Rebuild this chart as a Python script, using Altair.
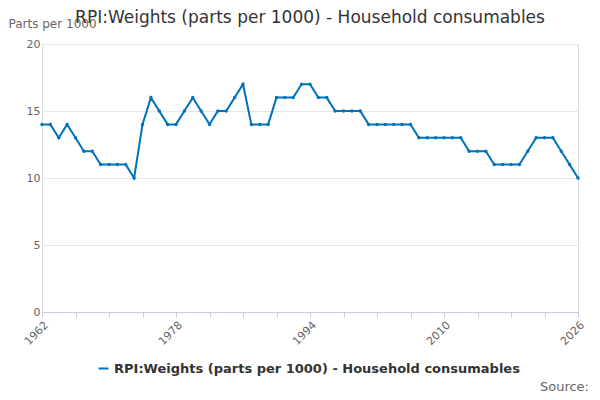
import altair as alt
import pandas as pd

years = list(range(1962, 2027))
values = [14, 14, 13, 14, 13, 12, 12, 11, 11, 11, 11, 10, 14, 16, 15, 14, 14, 15, 16, 15,
          14, 15, 15, 16, 17, 14, 14, 14, 16, 16, 16, 17, 17, 16, 16, 15, 15, 15, 15, 14,
          14, 14, 14, 14, 14, 13, 13, 13, 13, 13, 13, 12, 12, 12, 11, 11, 11, 11, 12, 13,
          13, 13, 12, 11, 10]
series = "RPI:Weights (parts per 1000) - Household consumables"

df = pd.DataFrame({"year": years, "value": values, "series": series})

line = alt.Chart(df).mark_line(point=alt.OverlayMarkDef(size=12, filled=True), strokeWidth=2).encode(
    x=alt.X("year:Q", scale=alt.Scale(domain=[1962, 2026], nice=False),
            axis=alt.Axis(values=list(range(1962, 2027, 4)), grid=False,
                          labelExpr="(datum.value - 1962) % 16 == 0 ? datum.value : ''",
                          labelAngle=-45, labelAlign="right", labelColor="#666",
                          tickColor="#ccc8e0", domainColor="#ccc8e0", title=None, labelFontSize=11)),
    y=alt.Y("value:Q", scale=alt.Scale(domain=[0, 20]),
            axis=alt.Axis(values=[0, 5, 10, 15, 20], title="Parts per 1000", titleAngle=0,
                          titleX=-34, titleY=-14, titleAlign="left", titleFontWeight="normal",
                          titleColor="#666", titleFontSize=12, labelColor="#666",
                          domain=False, ticks=False, gridColor="#e6e6e6", labelFontSize=11)),
    color=alt.Color("series:N", scale=alt.Scale(range=["#0072bc"]),
                    legend=alt.Legend(title=None, orient="none", legendX=55, legendY=318,
                                      labelFontSize=13, labelFontWeight="bold", labelColor="#333",
                                      symbolType="stroke", symbolStrokeWidth=2, labelLimit=500)),
)

source = alt.Chart(pd.DataFrame({"t": ["Source:"]})).mark_text(
    align="right", fontSize=13, color="#666"
).encode(text="t:N", x=alt.value(547), y=alt.value(343))

title = alt.Chart(pd.DataFrame({"t": [series]})).mark_text(
    align="center", fontSize=17, color="#333"
).encode(text="t:N", x=alt.value(268), y=alt.value(-26))

chart = alt.layer(line, source, title).properties(
    width=536, height=268,
    autosize=alt.AutoSizeParams(type="none"),
    padding={"left": 34, "top": 36, "right": 14, "bottom": 90},
).configure_view(stroke=None, strokeWidth=0).configure(font="DejaVu Sans")

chart.save("out.html", embed_options={"renderer": "svg", "actions": False})
